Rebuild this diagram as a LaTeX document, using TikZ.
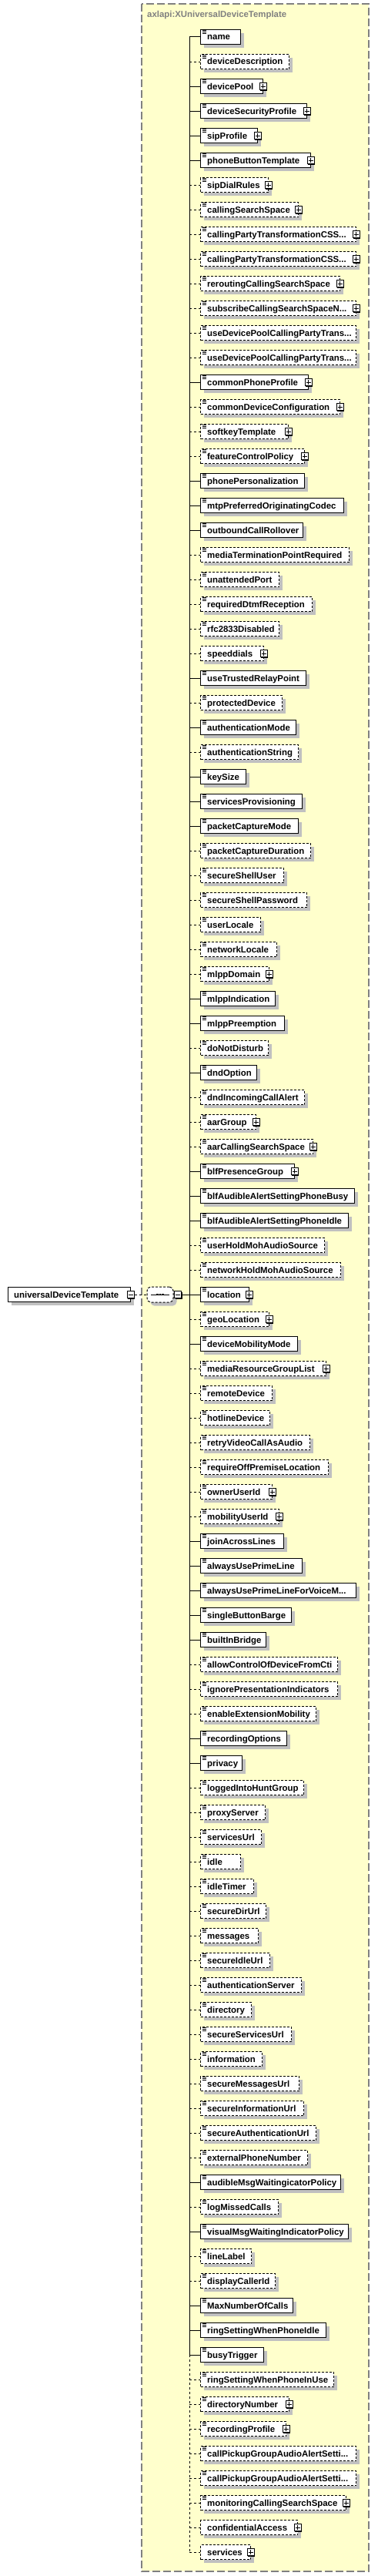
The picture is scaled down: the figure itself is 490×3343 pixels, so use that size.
\documentclass[tikz,border=0pt]{standalone}
\usepackage{fontspec}
\setmainfont{Liberation Sans}
\usetikzlibrary{shadows}
\definecolor{bgyellow}{RGB}{255,255,204}
\definecolor{shgray}{RGB}{192,192,192}
\definecolor{bordergray}{RGB}{128,128,128}
\tikzset{
 elbox/.style={draw, fill=white, line width=1pt, anchor=west, minimum height=19pt, inner sep=0pt,
   drop shadow={shadow xshift=4.5pt, shadow yshift=-4.5pt, fill=shgray, opacity=1}},
 optbox/.style={dash pattern=on 3pt off 2pt},
 conn/.style={line width=1pt},
 optline/.style={dash pattern=on 3pt off 3pt},
 lbl/.style={anchor=base west, inner sep=0pt, font=\fontsize{11.4}{13}\selectfont\bfseries},
 iconline/.style={line width=0.8pt},
 signbox/.style={draw, fill=white, line width=1pt, minimum size=9pt, inner sep=0pt,
   drop shadow={shadow xshift=1pt, shadow yshift=-1pt, fill=black, opacity=1}},
 seqbox/.style={draw, fill=white, line width=1pt, dash pattern=on 3pt off 2pt, rounded corners=5pt,
   minimum width=34pt, minimum height=20pt, inner sep=0pt,
   drop shadow={shadow xshift=4.5pt, shadow yshift=-4.5pt, fill=shgray, opacity=1}},
}
% #1 row, #2 text, #3 right edge, #4 required, #5 text icon, #6 expandable
\newcommand\El[6]{%
 \pgfmathsetmacro\yy{48+32*(#1-1)}%
 \pgfmathsetmacro\ww{#3-260}%
 \pgfmathsetmacro\yb{\yy+4}%
 \coordinate (k#1) at (246,\yy);
 \ifnum#4=1
   \node[elbox,minimum width=\ww pt] (e#1) at (260,\yy) {};
   \draw[conn] (k#1) -- (e#1.west);
 \else
   \node[elbox,optbox,minimum width=\ww pt] (e#1) at (260,\yy) {};
   \draw[conn,optline] (k#1) -- (e#1.west);
 \fi
 \node[lbl] (t#1) at (269,\yb) {#2};
 \ifnum#5=1
   \draw[iconline] ([xshift=2.5pt,yshift=-1.5pt]e#1.north west) -- ++(5,0)
                   ([xshift=2.5pt,yshift=-3.5pt]e#1.north west) -- ++(5,0)
                   ([xshift=2.5pt,yshift=-5.5pt]e#1.north west) -- ++(5,0);
 \fi
 \ifnum#6=1
   \node[signbox] (p#1) at ([xshift=-0.5pt]e#1.east) {};
   \draw[line width=1pt] ([xshift=-3pt]p#1.center) -- ([xshift=3pt]p#1.center)
                         ([yshift=-3pt]p#1.center) -- ([yshift=3pt]p#1.center);
 \fi
}
\begin{document}
\begin{tikzpicture}[x=1pt,y=-1pt]
\useasboundingbox (0,0) rectangle (490,3343);
\path[fill=bgyellow, draw=bordergray, line width=1.5pt, dash pattern=on 10pt off 4pt] (184,5) rectangle (479,3337);
\node[lbl, text=bordergray] (hdr) at (191,23) {axlapi:XUniversalDeviceTemplate};

\El{1}{name}{312}{1}{1}{0}
\El{2}{deviceDescription}{375}{0}{1}{0}
\El{3}{devicePool}{341}{1}{1}{1}
\El{4}{deviceSecurityProfile}{398}{1}{1}{1}
\El{5}{sipProfile}{334}{1}{1}{1}
\El{6}{phoneButtonTemplate}{403}{1}{1}{1}
\El{7}{sipDialRules}{348}{0}{1}{1}
\El{8}{callingSearchSpace}{387}{0}{1}{1}
\El{9}{callingPartyTransformationCSS...}{462}{0}{1}{1}
\El{10}{callingPartyTransformationCSS...}{462}{0}{1}{1}
\El{11}{reroutingCallingSearchSpace}{441}{0}{1}{1}
\El{12}{subscribeCallingSearchSpaceN...}{462}{0}{1}{1}
\El{13}{useDevicePoolCallingPartyTrans...}{462}{0}{1}{0}
\El{14}{useDevicePoolCallingPartyTrans...}{462}{0}{1}{0}
\El{15}{commonPhoneProfile}{400}{1}{1}{1}
\El{16}{commonDeviceConfiguration}{441}{0}{1}{1}
\El{17}{softkeyTemplate}{374}{0}{1}{1}
\El{18}{featureControlPolicy}{395}{0}{1}{1}
\El{19}{phonePersonalization}{395}{1}{1}{0}
\El{20}{mtpPreferredOriginatingCodec}{446}{1}{1}{0}
\El{21}{outboundCallRollover}{393}{1}{1}{0}
\El{22}{mediaTerminationPointRequired}{453}{0}{1}{0}
\El{23}{unattendedPort}{362}{0}{1}{0}
\El{24}{requiredDtmfReception}{405}{0}{1}{0}
\El{25}{rfc2833Disabled}{362}{0}{1}{0}
\El{26}{speeddials}{342}{0}{0}{1}
\El{27}{useTrustedRelayPoint}{397}{1}{1}{0}
\El{28}{protectedDevice}{366}{0}{1}{0}
\El{29}{authenticationMode}{384}{1}{1}{0}
\El{30}{authenticationString}{387}{0}{1}{0}
\El{31}{keySize}{319}{1}{1}{0}
\El{32}{servicesProvisioning}{392}{1}{1}{0}
\El{33}{packetCaptureMode}{387}{1}{1}{0}
\El{34}{packetCaptureDuration}{403}{0}{1}{0}
\El{35}{secureShellUser}{368}{0}{1}{0}
\El{36}{secureShellPassword}{398}{0}{1}{0}
\El{37}{userLocale}{338}{0}{1}{0}
\El{38}{networkLocale}{359}{0}{1}{0}
\El{39}{mlppDomain}{349}{0}{1}{1}
\El{40}{mlppIndication}{357}{1}{1}{0}
\El{41}{mlppPreemption}{369}{1}{1}{0}
\El{42}{doNotDisturb}{348}{0}{1}{0}
\El{43}{dndOption}{333}{1}{1}{0}
\El{44}{dndIncomingCallAlert}{395}{0}{1}{0}
\El{45}{aarGroup}{332}{0}{1}{1}
\El{46}{aarCallingSearchSpace}{406}{0}{1}{1}
\El{47}{blfPresenceGroup}{382}{1}{1}{1}
\El{48}{blfAudibleAlertSettingPhoneBusy}{460}{1}{1}{0}
\El{49}{blfAudibleAlertSettingPhoneIdle}{452}{1}{1}{0}
\El{50}{userHoldMohAudioSource}{421}{0}{1}{0}
\El{51}{networkHoldMohAudioSource}{442}{0}{1}{0}
\El{52}{location}{323}{1}{1}{1}
\El{53}{geoLocation}{349}{0}{1}{1}
\El{54}{deviceMobilityMode}{386}{1}{1}{0}
\El{55}{mediaResourceGroupList}{423}{0}{1}{1}
\El{56}{remoteDevice}{353}{0}{1}{0}
\El{57}{hotlineDevice}{350}{0}{1}{0}
\El{58}{retryVideoCallAsAudio}{402}{0}{1}{0}
\El{59}{requireOffPremiseLocation}{426}{0}{1}{0}
\El{60}{ownerUserId}{353}{0}{1}{1}
\El{61}{mobilityUserId}{362}{0}{1}{1}
\El{62}{joinAcrossLines}{368}{1}{1}{0}
\El{63}{alwaysUsePrimeLine}{392}{1}{1}{0}
\El{64}{alwaysUsePrimeLineForVoiceM...}{462}{1}{1}{0}
\El{65}{singleButtonBarge}{378}{1}{1}{0}
\El{66}{builtInBridge}{345}{1}{1}{0}
\El{67}{allowControlOfDeviceFromCti}{438}{0}{1}{0}
\El{68}{ignorePresentationIndicators}{438}{0}{1}{0}
\El{69}{enableExtensionMobility}{410}{0}{1}{0}
\El{70}{recordingOptions}{372}{1}{1}{0}
\El{71}{privacy}{314}{1}{1}{0}
\El{72}{loggedIntoHuntGroup}{394}{0}{1}{0}
\El{73}{proxyServer}{344}{0}{1}{0}
\El{74}{servicesUrl}{339}{0}{1}{0}
\El{75}{idle}{312}{0}{1}{0}
\El{76}{idleTimer}{329}{0}{1}{0}
\El{77}{secureDirUrl}{345}{0}{1}{0}
\El{78}{messages}{335}{0}{1}{0}
\El{79}{secureIdleUrl}{350}{0}{1}{0}
\El{80}{authenticationServer}{391}{0}{1}{0}
\El{81}{directory}{326}{0}{1}{0}
\El{82}{secureServicesUrl}{378}{0}{1}{0}
\El{83}{information}{340}{0}{1}{0}
\El{84}{secureMessagesUrl}{388}{0}{1}{0}
\El{85}{secureInformationUrl}{394}{0}{1}{0}
\El{86}{secureAuthenticationUrl}{410}{0}{1}{0}
\El{87}{externalPhoneNumber}{399}{0}{1}{0}
\El{88}{audibleMsgWaitingicatorPolicy}{442}{1}{1}{0}
\El{89}{logMissedCalls}{361}{0}{1}{0}
\El{90}{visualMsgWaitingIndicatorPolicy}{452}{1}{1}{0}
\El{91}{lineLabel}{326}{0}{1}{0}
\El{92}{displayCallerId}{357}{0}{1}{0}
\El{93}{MaxNumberOfCalls}{380}{1}{1}{0}
\El{94}{ringSettingWhenPhoneIdle}{423}{1}{1}{0}
\El{95}{busyTrigger}{342}{1}{1}{0}
\El{96}{ringSettingWhenPhoneInUse}{433}{0}{1}{0}
\El{97}{directoryNumber}{375}{0}{1}{1}
\El{98}{recordingProfile}{371}{0}{1}{1}
\El{99}{callPickupGroupAudioAlertSetti...}{462}{0}{1}{0}
\El{100}{callPickupGroupAudioAlertSetti...}{462}{0}{1}{0}
\El{101}{monitoringCallingSearchSpace}{449}{0}{1}{1}
\El{102}{confidentialAccess}{386}{0}{0}{1}
\El{103}{services}{325}{0}{0}{1}

% trunk
\draw[conn] (k1) -- (k95);
\draw[conn,optline] (k95) -- (k103);

% root element and sequence compositor
\node[elbox, minimum width=159pt] (root) at (10,1680) {};
\node[lbl] (roott) at (18,1684) {universalDeviceTemplate};
\node[signbox] (rootm) at ([xshift=-0.5pt]root.east) {};
\draw[line width=1pt] ([xshift=-3pt]rootm.center) -- ([xshift=3pt]rootm.center);
\node[seqbox] (seq) at (208,1680) {};
\draw[line width=1pt] ([xshift=-12pt]seq.center) -- ([xshift=12pt]seq.center);
\fill ([xshift=-4.75pt,yshift=1.25pt]seq.center) rectangle ++(2.5,2.5);
\fill ([xshift=-1.25pt,yshift=1.25pt]seq.center) rectangle ++(2.5,2.5);
\fill ([xshift=2.25pt,yshift=1.25pt]seq.center) rectangle ++(2.5,2.5);
\node[signbox] (seqm) at (231,1680) {};
\draw[line width=1pt] ([xshift=-3pt]seqm.center) -- ([xshift=3pt]seqm.center);
\draw[conn,optline] (rootm.east) -- (seq.west);
\draw[conn] (seqm.east) -- (k52);
\end{tikzpicture}
\end{document}
